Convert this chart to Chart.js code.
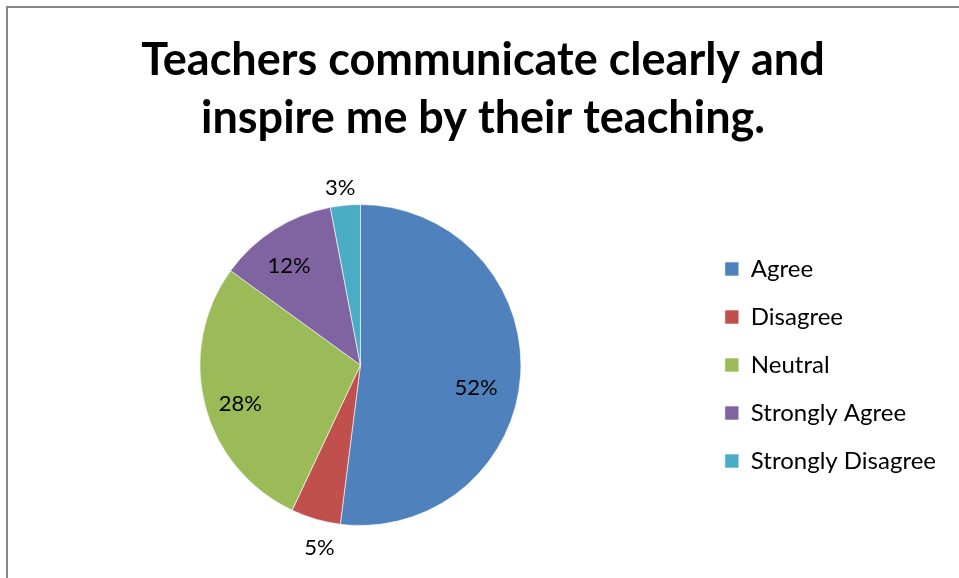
<!DOCTYPE html>
<html>
<head>
<meta charset="utf-8">
<script src="https://cdn.jsdelivr.net/npm/chart.js@4/dist/chart.umd.min.js"></script>
<style>
  html, body { margin: 0; padding: 0; background: #ffffff; overflow: hidden; }
  #wrap { position: absolute; left: 0; top: 0; width: 959px; height: 578px; }
  #frame {
    position: absolute; left: 6px; top: 6px; width: 1000px; height: 620px;
    border-left: 2px solid #878787; border-top: 2px solid #878787;
    pointer-events: none;
  }
</style>
</head>
<body>
<div id="wrap">
  <canvas id="chart" width="959" height="578"></canvas>
  <div id="frame"></div>
</div>
<script>
const categories = ['Agree', 'Disagree', 'Neutral', 'Strongly Agree', 'Strongly Disagree'];
const percentages = [52, 5, 28, 12, 3];
const sliceColors = ['#4F81BD', '#C0504D', '#9BBB59', '#8064A2', '#4BACC6'];
const chartTitle = ['Teachers communicate clearly and', 'inspire me by their teaching.'];

// Etiquetas de porcentaje: dentro del sector, o fuera si el sector es pequeño
const percentLabels = {
  id: 'percentLabels',
  afterDatasetsDraw(chart, args, opts) {
    const ctx = chart.ctx;
    const meta = chart.getDatasetMeta(0);
    ctx.save();
    ctx.font = '22px Lato, "Open Sans", sans-serif';
    ctx.fillStyle = '#000000';
    ctx.textAlign = 'center';
    ctx.textBaseline = 'middle';
    meta.data.forEach((arc, i) => {
      const mid = (arc.startAngle + arc.endAngle) / 2;
      const factor = percentages[i] < 6 ? 1.14 : 0.76;
      const r = arc.outerRadius * factor;
      const nudge = opts.nudge[i] || [0, 0];
      const x = arc.x + Math.cos(mid) * r + nudge[0];
      const y = arc.y + Math.sin(mid) * r + nudge[1];
      ctx.fillText(percentages[i] + '%', x, y);
    });
    ctx.restore();
  }
};

new Chart(document.getElementById('chart'), {
  type: 'pie',
  data: {
    labels: categories,
    datasets: [{
      data: percentages,
      backgroundColor: sliceColors,
      borderColor: 'rgba(255,255,255,0.6)',
      borderWidth: 1,
    }],
  },
  options: {
    responsive: false,
    animation: false,
    layout: {
      padding: { left: 20, right: 13, top: 0, bottom: 52 },
    },
    plugins: {
      title: {
        display: true,
        text: chartTitle,
        color: '#000000',
        font: { family: 'Lato, "Open Sans", sans-serif', size: 45, weight: 'bold', lineHeight: 1.289 },
        padding: { top: 31, bottom: 57 },
      },
      legend: {
        position: 'right',
        align: 'center',
        fullSize: false,
        labels: {
          color: '#000000',
          boxWidth: 14,
          boxHeight: 14,
          padding: 24,
          font: { family: 'Lato, "Open Sans", sans-serif', size: 24 },
        },
      },
      tooltip: { enabled: false },
      percentLabels: {
        nudge: [[-6, 15], [10, 7], [-2, 9], [-6, 4], [-3, 5]],
      },
    },
  },
  plugins: [percentLabels],
});
</script>
</body>
</html>
